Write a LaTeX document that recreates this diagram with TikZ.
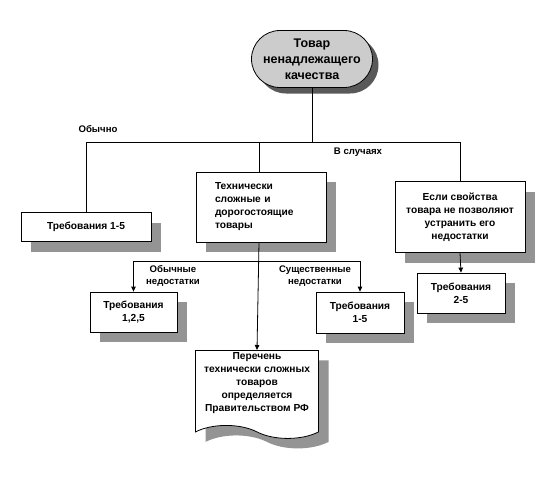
\documentclass[tikz,border=0pt]{standalone}
\usepackage{fontspec}
\setmainfont{Liberation Sans}
\usetikzlibrary{shadows,shapes.misc,shapes.symbols,arrows.meta}
\tikzset{
  box/.style={draw, fill=white, inner sep=2pt, align=center,
    font=\bfseries\fontsize{10.2}{13}\selectfont,
    drop shadow={shadow xshift=10pt, shadow yshift=-10pt, fill=black!42, opacity=1}},
  lbl/.style={font=\bfseries\fontsize{9.6}{11.5}\selectfont, align=center},
  arr/.style={-{Triangle[length=5pt,width=4.5pt]}},
}
\begin{document}
\begin{tikzpicture}[x=1pt, y=-1pt, line width=0.8pt]
\useasboundingbox (0,0) rectangle (557,488);
% goods of poor quality
\node[rounded rectangle, draw, fill=black!20, minimum width=125pt, minimum height=57pt,
  align=center, font=\bfseries\fontsize{12.5}{16}\selectfont, inner sep=2pt,
  drop shadow={shadow xshift=6pt, shadow yshift=-6pt, fill=black!65, opacity=1}]
  (top) at (312,59) {Товар\\ненадлежащего\\качества};

% first level
\node[box, minimum width=130pt, minimum height=29pt] (req15) at (86,227) {Требования 1-5};
\node[box, minimum width=130pt, minimum height=70pt, align=left, text width=92pt]
  (tech) at (261,207) {Технически\\сложные и\\дорогостоящие\\товары};
\node[box, minimum width=130pt, minimum height=71pt] (prop) at (460,217)
  {Если свойства\\товара не позволяют\\устранить его\\недостатки};

% second level
\node[box, minimum width=87pt, minimum height=40pt] (req125) at (133.5,312) {Требования\\1,2,5};
\node[box, minimum width=88pt, minimum height=41pt] (req15b) at (360,312.5) {Требования\\1-5};
\node[box, minimum width=88pt, minimum height=40pt] (req25) at (461,293) {Требования\\2-5};
\node[box, tape, tape bend top=none, tape bend bottom=out and in, tape bend height=13pt,
  minimum width=123pt, minimum height=88pt, anchor=north, text depth=12pt]
  (list) at (257,350)
  {Перечень\\технически сложных\\товаров\\определяется\\Правительством РФ};

% connectors
\coordinate (split) at (top.south |- 0,142);
\coordinate (fork) at (259,261);
\draw (top.south) -- (split);
\draw (req15.north) -- (req15.north |- split) -- (prop.north |- split) -- (prop.north);
\draw (fork |- tech.north) -- (fork |- split);
\draw[arr] (fork |- tech.south) -- (list.north);
\draw[arr] (fork) -| (req125.north);
\draw[arr] (fork) -| (req15b.north);
\draw[arr] (prop.south) -- (req25.north);

% labels
\node[lbl] (usual) at (98,129) {Обычно};
\node[lbl] (cases) at (358,152) {В случаях};
\node[lbl] (minor) at (173,276) {Обычные\\недостатки};
\node[lbl] (major) at (315,276) {Существенные\\недостатки};
\end{tikzpicture}
\end{document}
